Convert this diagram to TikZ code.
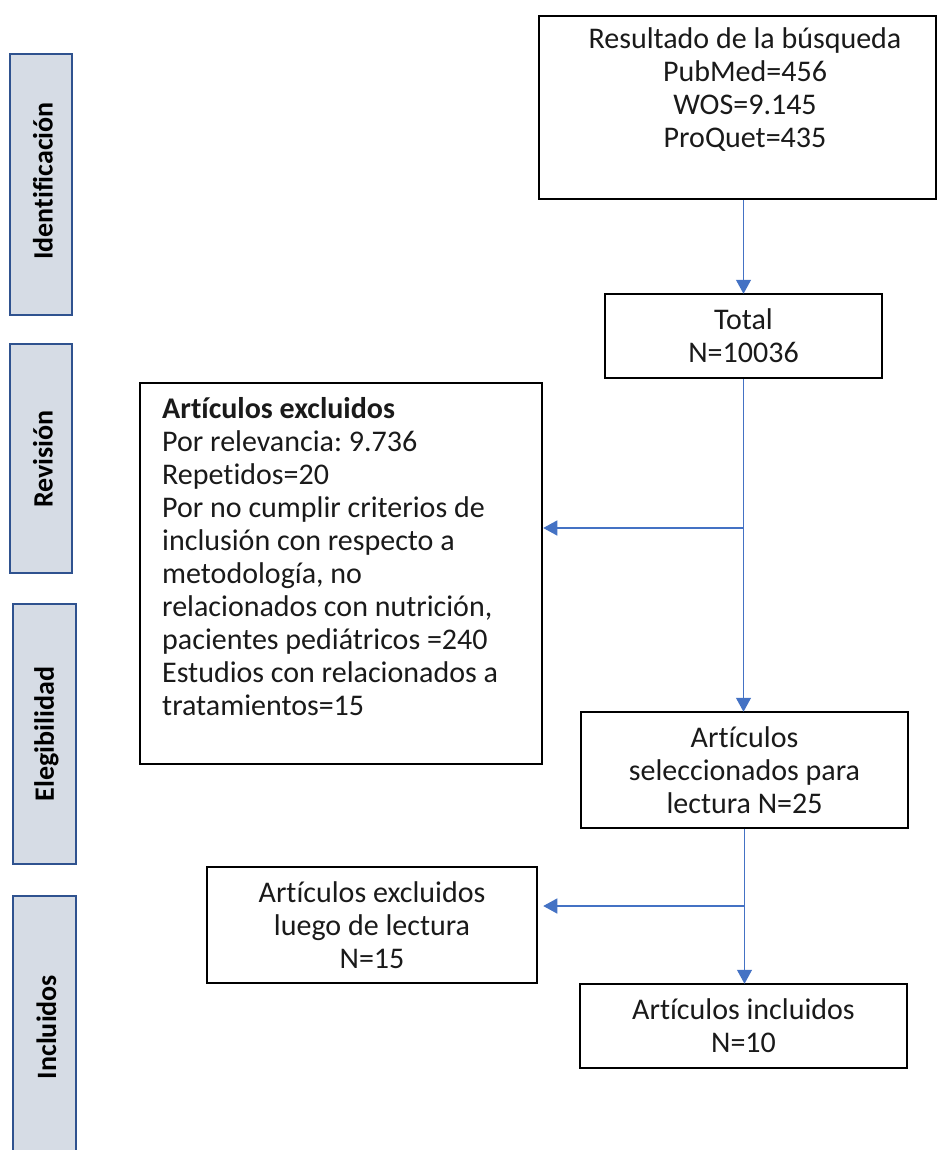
\documentclass[tikz,border=0pt]{standalone}
\usepackage{fontspec}
\setmainfont{Carlito}[Ligatures={NoCommon,TeX}]
\usetikzlibrary{arrows.meta}
\definecolor{arrowblue}{HTML}{4472C4}
\definecolor{barfill}{HTML}{D6DCE5}
\definecolor{barline}{HTML}{2F528F}
\definecolor{txtc}{HTML}{1A1A1A}
\frenchspacing
\begin{document}
\begin{tikzpicture}[x=1pt,y=-1pt,
  box/.style={draw=black, line width=2.5pt, rectangle, inner sep=0pt,
    text=txtc, font=\fontsize{30}{33}\selectfont, align=center},
  bar/.style={draw=barline, fill=barfill, line width=2.2pt, rectangle, inner sep=0pt},
  conn/.style={draw=arrowblue, line width=1.3pt},
  arr/.style={conn, -{Triangle[length=14pt,width=15pt]}},
  txt/.style={text=txtc, font=\fontsize{30}{33}\selectfont, inner sep=0pt},
  bartxt/.style={text=black, font=\bfseries\fontsize{28}{30}\selectfont, rotate=90, inner sep=0pt}]
\useasboundingbox (0,0) rectangle (938,1150);
\clip (0,0) rectangle (938,1150);
\fill[white] (0,0) rectangle (938,1150);

% stage bars
\node[bar, minimum width=62pt, minimum height=261pt] (s1) at (41,184.5) {};
\node[bartxt] (s1t) at (43,181) {Identificación};
\node[bar, minimum width=62pt, minimum height=229pt] (s2) at (41,458.5) {};
\node[bartxt] (s2t) at (43,459) {Revisión};
\node[bar, minimum width=63pt, minimum height=260pt] (s3) at (44.5,734) {};
\node[bartxt] (s3t) at (46.5,734) {Elegibilidad};
\node[bar, minimum width=63pt, minimum height=264pt] (s4) at (44.5,1028) {};
\node[bartxt] (s4t) at (46.5,1027) {Incluidos};

% boxes
\node[box, minimum width=397pt, minimum height=183pt] (b1) at (737.5,107.5) {};
\node[txt, align=center] (b1t) at (745,90) {Resultado de la búsqueda\\PubMed=456\\WOS=9.145\\ProQuet=435};

\node[box, minimum width=277pt, minimum height=84pt] (b2) at (743.5,336) {Total\\N=10036};

\node[box, minimum width=402pt, minimum height=381pt] (b3) at (341,573.5) {};
\node[txt, align=left, anchor=base west] (b3t) at (162,715) {\textbf{Artículos excluidos}\\
Por relevancia: 9.736\\
Repetidos=20\\
Por no cumplir criterios de\\
inclusión con respecto a\\
metodología, no\\
relacionados con nutrición,\\
pacientes pediátricos =240\\
Estudios con relacionados a\\
tratamientos=15};

\node[box, minimum width=327pt, minimum height=116pt] (b4) at (744.5,770) {Artículos\\seleccionados para\\lectura N=25};

\node[box, minimum width=330pt, minimum height=116pt] (b5) at (372,925) {Artículos excluidos\\luego de lectura\\N=15};

\node[box, minimum width=327pt, minimum height=84pt] (b6) at (743.5,1026) {Artículos incluidos\\N=10};

% connectors
\draw[arr] (b2.north |- b1.south) -- ([yshift=-1pt]b2.north);
\draw[arr] (b2.south) -- ([yshift=-1pt]b2.south |- b4.north);
\coordinate (j1) at (b2.south |- 0,528);
\draw[arr] (j1) -- (b3.east |- j1);
\draw[arr] (b4.south) -- ([yshift=-1pt]b4.south |- b6.north);
\coordinate (j2) at (b4.south |- 0,906);
\draw[arr] (j2) -- ([xshift=5pt]b5.east |- j2);
\end{tikzpicture}
\end{document}
